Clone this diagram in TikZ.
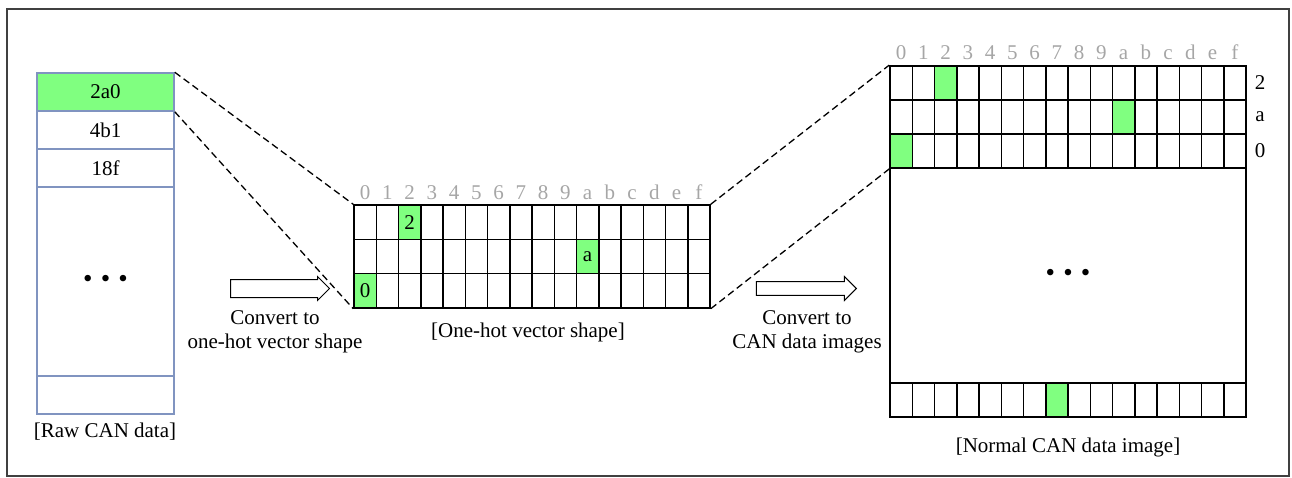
\documentclass[tikz,border=0pt]{standalone}
\usepackage{fontspec}
\setmainfont{Liberation Serif}
\usetikzlibrary{positioning,shapes.arrows}

\definecolor{hotgreen}{HTML}{80FF80}
\definecolor{rawblue}{HTML}{8094C0}
\definecolor{framegray}{HTML}{404040}

\tikzset{
  txt/.style={font=\fontsize{21}{24}\selectfont},
  rawcell/.style={draw=rawblue, line width=1.5pt, minimum width=137pt, minimum height=38pt, inner sep=0pt, txt},
  cell/.style={draw=black, line width=1.5pt, minimum width=22.25pt, minimum height=34.3pt, inner sep=0pt, txt},
  hot/.style={fill=hotgreen},
  collab/.style={txt, text=gray!70, inner sep=0pt, anchor=base},
  dots/.style={font=\fontsize{27}{30}\selectfont},
  zoomline/.style={line width=1.3pt, dash pattern=on 7pt off 4pt},
  bigarrow/.style={single arrow, draw=black, line width=1pt, fill=white, minimum height=99pt, inner xsep=0pt},
  caption/.style={txt, align=center},
}

\begin{document}
\begin{tikzpicture}[x=1pt,y=-1pt]
\useasboundingbox (0,0) rectangle (1292,477);
% outer frame
\draw[framegray, line width=2pt] (7,9) rectangle (1289,476);

% raw CAN data column
\node[rawcell, hot] (raw1) at (105.5,92) {2a0};
\node[rawcell] (raw2) at (105.5,130) {4b1};
\node[rawcell] (raw3) at (105.5,168) {18f};
\node[rawcell, minimum height=189pt, dots] (rawdots) at (105.5,281.5) {\textbullet\hspace{0.3em}\textbullet\hspace{0.3em}\textbullet};
\node[rawcell] (rawlast) at (105.5,395) {};
\node[caption] (rawcap) at (105,432) {[Raw CAN data]};

% one-hot vector
\foreach \d [count=\c from 0] in {0,1,2,3,4,5,6,7,8,9,a,b,c,d,e,f} {
  \node[collab] (vl-\c) at ({354+22.25*(\c+0.5)},199) {\d};
  \foreach \r in {0,1,2}
    \node[cell] (v-\r-\c) at ({354+22.25*(\c+0.5)},{205+34.33*(\r+0.5)}) {};
}
\node[cell, hot] (vhot2) at (v-0-2) {2};
\node[cell, hot] (vhota) at (v-1-10) {a};
\node[cell, hot] (vhot0) at (v-2-0) {0};
\node[caption] (veccap) at (528,332) {[One-hot vector shape]};

% CAN data image
\node[draw, line width=1.5pt, minimum width=356pt, minimum height=215pt, inner sep=0pt, dots] (imgbody) at (1068,275.5)
  {\textbullet\hspace{0.3em}\textbullet\hspace{0.3em}\textbullet};
\foreach \d [count=\c from 0] in {0,1,2,3,4,5,6,7,8,9,a,b,c,d,e,f} {
  \node[collab] (ml-\c) at ({890+22.25*(\c+0.5)},59) {\d};
  \foreach \r in {0,1,2}
    \node[cell] (m-\r-\c) at ({890+22.25*(\c+0.5)},{66+34*(\r+0.5)}) {};
  \node[cell] (mb-\c) at ({890+22.25*(\c+0.5)},400) {};
}
\node[cell, hot] (mhot2) at (m-0-2) {};
\node[cell, hot] (mhota) at (m-1-10) {};
\node[cell, hot] (mhot0) at (m-2-0) {};
\node[cell, hot] (mbhot) at (mb-7) {};
\foreach \t [count=\r from 0] in {2,a,0}
  \node[txt, inner sep=0pt] (row-\r) at (1260,{66+34*(\r+0.5)}) {\t};
\node[caption] (imgcap) at (1068,447) {[Normal CAN data image]};

% zoom lines
\draw[zoomline] (raw1.north east) -- (v-0-0.north west);
\draw[zoomline] (raw1.south east) -- (v-2-0.south west);
\draw[zoomline] (v-0-15.north east) -- (m-0-0.north west);
\draw[zoomline] (v-2-15.south east) -- (m-2-0.south west);

% conversion arrows
\node[bigarrow, inner ysep=8.5pt, single arrow head extend=3pt] (conv1) at (275.5,288.5) {};
\node[caption] (conv1cap) at (275,332) {Convert to\\one-hot vector shape};
\node[bigarrow, minimum height=100pt, inner ysep=6.3pt, single arrow head extend=5.2pt] (conv2) at (803,288.5) {};
\node[caption] (conv2cap) at (807,332) {Convert to\\CAN data images};
\end{tikzpicture}
\end{document}
